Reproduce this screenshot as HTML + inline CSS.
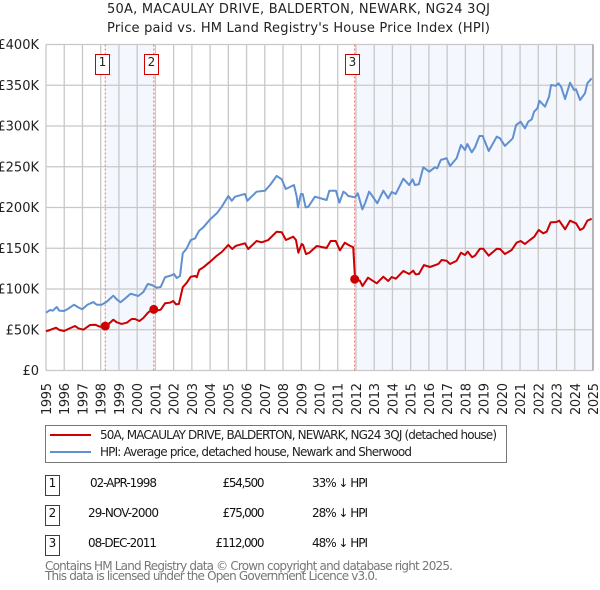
<!DOCTYPE html>
<html>
<head>
<meta charset="utf-8">
<title>50A, MACAULAY DRIVE, BALDERTON, NEWARK, NG24 3QJ</title>
<style>
html,body{margin:0;padding:0;background:#fff;width:600px;height:590px;overflow:hidden}
svg{display:block;font-family:"DejaVu Sans","Liberation Sans",sans-serif}
</style>
</head>
<body>
<svg id="chart" xmlns="http://www.w3.org/2000/svg" width="600" height="590" viewBox="0 0 600 590">
  <g font-size="13" fill="#222" text-anchor="middle">
    <text x="298.5" y="13" textLength="383" lengthAdjust="spacing">50A, MACAULAY DRIVE, BALDERTON, NEWARK, NG24 3QJ</text>
    <text x="298.5" y="32" textLength="383" lengthAdjust="spacing">Price paid vs. HM Land Registry's House Price Index (HPI)</text>
  </g>
  <g id="shades"></g>
  <g id="grid"></g>
  <g id="saleLines"></g>
  <g id="series"></g>
  <g id="markers"></g>
  <g id="yLabels" font-size="13" fill="#222" text-anchor="end"></g>
  <g id="xLabels" font-size="13" fill="#222"></g>
  <g id="flags" font-size="12" fill="#222" text-anchor="middle"></g>

  <g>
    <rect x="45.5" y="425.5" width="461" height="37" fill="#fff" stroke="#777" stroke-width="1"/>
    <line x1="50" x2="91" y1="435" y2="435" stroke="#cc0000" stroke-width="2"/>
    <text x="100" y="439" font-size="12" fill="#222" textLength="397" lengthAdjust="spacing">50A, MACAULAY DRIVE, BALDERTON, NEWARK, NG24 3QJ (detached house)</text>
    <line x1="50" x2="91" y1="452" y2="452" stroke="#6090d0" stroke-width="2"/>
    <text x="100" y="456" font-size="12" fill="#222" textLength="312" lengthAdjust="spacing">HPI: Average price, detached house, Newark and Sherwood</text>
  </g>

  <g font-size="12" fill="#111">
    <g>
      <rect x="45.5" y="475.5" width="14" height="20" fill="#fff" stroke="#cc0000"/>
      <text x="52.5" y="487" text-anchor="middle">1</text>
      <text x="90" y="487" textLength="67">02-APR-1998</text>
      <text x="264.5" y="487" text-anchor="end" textLength="42">£54,500</text>
      <text x="312" y="487" textLength="56">33% ↓ HPI</text>
    </g>
    <g>
      <rect x="45.5" y="505.5" width="14" height="20" fill="#fff" stroke="#cc0000"/>
      <text x="52.5" y="517" text-anchor="middle">2</text>
      <text x="88" y="517" textLength="71">29-NOV-2000</text>
      <text x="264.5" y="517" text-anchor="end" textLength="42">£75,000</text>
      <text x="312" y="517" textLength="56">28% ↓ HPI</text>
    </g>
    <g>
      <rect x="45.5" y="535.5" width="14" height="20" fill="#fff" stroke="#cc0000"/>
      <text x="52.5" y="547" text-anchor="middle">3</text>
      <text x="88" y="547" textLength="69">08-DEC-2011</text>
      <text x="264.5" y="547" text-anchor="end" textLength="49">£112,000</text>
      <text x="312" y="547" textLength="56">48% ↓ HPI</text>
    </g>
  </g>

  <g font-size="12" fill="#777">
    <text x="45" y="570" textLength="408">Contains HM Land Registry data © Crown copyright and database right 2025.</text>
    <text x="45" y="580" textLength="333">This data is licensed under the Open Government Licence v3.0.</text>
  </g>
</svg>

<script>
var yearTicks = [1995,1996,1997,1998,1999,2000,2001,2002,2003,2004,2005,2006,2007,2008,2009,2010,2011,2012,2013,2014,2015,2016,2017,2018,2019,2020,2021,2022,2023,2024,2025];
var valueTicks = [0,50,100,150,200,250,300,350,400];
var valueTickLabels = ["£0","£50K","£100K","£150K","£200K","£250K","£300K","£350K","£400K"];

var saleDates = [1998.25,2000.91,2011.93];
var saleValues = [54.5,75,112];
var saleNumbers = ["1","2","3"];

var hpiDates = [1995,1995.22,1995.37,1995.59,1995.73,1995.99,1996.22,1996.54,1996.77,1996.99,1997.27,1997.6,1997.78,1998.05,1998.33,1998.69,1998.88,1999.09,1999.39,1999.64,1999.83,2000.06,2000.34,2000.58,2000.81,2001.07,2001.29,2001.53,2001.89,2002.02,2002.17,2002.35,2002.5,2002.72,2002.94,2003.18,2003.27,2003.4,2003.63,2004,2004.37,2004.64,2005,2005.19,2005.37,2005.91,2006.04,2006.55,2007.01,2007.29,2007.65,2007.93,2008.15,2008.6,2008.75,2008.82,2008.98,2009.08,2009.24,2009.39,2009.75,2010.39,2010.54,2010.9,2011.09,2011.31,2011.44,2011.58,2011.95,2012.1,2012.35,2012.5,2012.72,2012.86,2013.17,2013.5,2013.77,2013.96,2014.18,2014.6,2014.92,2015.11,2015.23,2015.45,2015.69,2016.02,2016.33,2016.46,2016.65,2016.97,2017.16,2017.52,2017.76,2017.98,2018.11,2018.35,2018.53,2018.77,2018.95,2019.28,2019.72,2019.9,2020.17,2020.6,2020.78,2021.03,2021.27,2021.45,2021.64,2021.77,2021.95,2022.06,2022.37,2022.59,2022.7,2022.97,2023.1,2023.25,2023.47,2023.74,2023.96,2024.07,2024.29,2024.56,2024.69,2024.93];
var hpiValues = [70.9,74.2,73.4,77.9,73.4,73,75.8,80.7,77.5,75.1,80.7,84,80.7,80.7,84.4,91.8,87.3,83.7,89.3,94.2,93,91.4,96.3,106.1,104.9,101.6,102.5,114.4,116.8,118.4,113.5,116,143.8,149.9,160.1,162.2,166.3,171.5,175.7,185.5,192.9,201,214.1,208.3,213.3,216.6,208.3,219.4,220.6,227.6,238.7,234.6,222.7,227.6,213.3,200.2,216.6,216.6,200.2,201,213.3,209.2,220.6,220.6,205.9,219.4,217.4,214.1,212.5,217.4,197.8,205.2,219.4,215.3,205.2,220.6,211.3,219,216.6,235.3,227.6,234.6,227.6,228.5,249.3,243.9,249.3,248.1,258.3,260.4,250.9,260.4,276.7,270.6,277.9,267.7,273.9,287.7,287.7,269.3,286.9,284.9,275.5,284.9,301.2,305.3,297.2,305.3,308.2,317.5,321.7,331,323.7,336,350.3,349.4,352.4,348.2,333.1,353.1,344.2,345,331.9,340.1,352.4,358.5];

var paidDates = [1995,1995.22,1995.55,1995.73,1995.99,1996.22,1996.59,1996.77,1997.05,1997.41,1997.69,1997.96,1998.2,1998.42,1998.69,1998.88,1999.15,1999.43,1999.7,1999.88,2000.12,2000.34,2000.61,2000.81,2001.07,2001.29,2001.53,2001.8,2001.98,2002.13,2002.29,2002.5,2002.72,2002.94,2003.18,2003.27,2003.4,2003.63,2004,2004.37,2004.64,2005,2005.21,2005.4,2005.91,2006.09,2006.55,2006.83,2007.19,2007.65,2007.93,2008.16,2008.56,2008.71,2008.84,2009.02,2009.1,2009.26,2009.44,2009.85,2010.39,2010.61,2010.89,2011.12,2011.39,2011.67,2011.85,2011.95,2012.21,2012.36,2012.66,2013.14,2013.5,2013.77,2013.96,2014.19,2014.6,2014.92,2015.14,2015.27,2015.45,2015.73,2016.06,2016.52,2016.7,2016.97,2017.16,2017.52,2017.76,2017.98,2018.13,2018.37,2018.53,2018.8,2018.98,2019.28,2019.72,2019.9,2020.17,2020.54,2020.81,2021.03,2021.27,2021.54,2021.78,2022.02,2022.27,2022.46,2022.68,2023,2023.15,2023.47,2023.74,2024.07,2024.29,2024.47,2024.69,2024.93];
var paidValues = [48.1,49.7,52.5,49.7,48.5,50.9,54.6,51.8,50.1,55.8,56.2,53.7,54.6,56.7,62.3,59.1,57.1,58.7,63.2,63.2,60.7,64.4,71.4,74.2,73.4,74.6,82.5,83.2,85.3,81.2,81.6,102.1,107.7,115.1,116,114.4,123.3,126.6,133.5,140.9,145.4,154,149.1,152.8,156.1,149.1,158.9,157.3,160.1,170.3,169.6,160.1,164.2,160.1,144.5,155.2,154,142.9,144.5,152.8,150.3,158.9,158.9,147.5,156.8,153.1,151.2,111.9,110.2,103.7,113.9,107,115.1,109.8,114.7,112.6,122.1,118.4,122.5,118,118.4,129.4,127,130.7,135.6,134.7,130.7,134.7,144.5,141.7,145.8,138.9,140.9,149.4,149.4,140.9,149.4,149.1,142.9,147.9,156.8,158.9,155.2,160.1,164.2,172.4,168.3,170.3,181.8,182.2,183.8,173.3,183.8,180.6,172.4,174.5,183.8,186.2];

var NS = "http://www.w3.org/2000/svg";
var plotLeft = 46, plotRight = 593, plotTop = 44.5, plotBottom = 370.5;

function xScale(year) {
  return plotLeft + (year - 1995) * (plotRight - plotLeft) / 30;
}
function yScale(value) {
  return plotBottom - value * (plotBottom - plotTop) / 400;
}
function make(tag, attrs, parentId) {
  var el = document.createElementNS(NS, tag);
  for (var k in attrs) el.setAttribute(k, attrs[k]);
  document.getElementById(parentId).appendChild(el);
  return el;
}
function pathFrom(dates, values) {
  var d = "";
  for (var i = 0; i < dates.length; i++) {
    d += (i ? "L" : "M") + xScale(dates[i]).toFixed(2) + " " + yScale(values[i]).toFixed(2);
  }
  return d;
}

var shadeA = make("rect", {x: xScale(saleDates[0]), y: plotTop, width: xScale(saleDates[1]) - xScale(saleDates[0]), height: plotBottom - plotTop, fill: "#f4f7fe"}, "shades");


var shadeB = make("rect", {x: xScale(saleDates[2]), y: plotTop, width: plotRight - xScale(saleDates[2]), height: plotBottom - plotTop, fill: "#f4f7fe"}, "shades");



valueTicks.forEach(function (v, i) {
  var py = yScale(v);
  var line = make("line", {x1: plotLeft, x2: plotRight, y1: py, y2: py, stroke: "#c8c8c8", "stroke-width": 1.3}, "grid");
  
  
  var label = make("text", {x: 39, y: py + 4.5}, "yLabels");
  
  
  label.textContent = valueTickLabels[i];
});

yearTicks.forEach(function (yr) {
  var px = xScale(yr);
  var line = make("line", {x1: px, x2: px, y1: plotTop, y2: plotBottom, stroke: "#c8c8c8", "stroke-width": 1.3}, "grid");
  
  
  var label = make("text", {transform: "translate(" + (px + 5) + ",415) rotate(-90)", textLength: 32}, "xLabels");
  
  
  label.textContent = String(yr);
});

var rightEdge = make("line", {x1: plotRight, x2: plotRight, y1: plotTop, y2: plotBottom, stroke: "#999", "stroke-width": 1.3}, "grid");



saleDates.forEach(function (d) {
  var line = make("line", {x1: xScale(d), x2: xScale(d), y1: plotTop, y2: plotBottom, stroke: "#ff6666", "stroke-width": 1, "stroke-dasharray": "2 2"}, "saleLines");
  
  
});

var hpiLine = make("path", {d: pathFrom(hpiDates, hpiValues), fill: "none", stroke: "#6090d0", "stroke-width": 2, "stroke-linejoin": "round"}, "series");


var paidLine = make("path", {d: pathFrom(paidDates, paidValues), fill: "none", stroke: "#cc0000", "stroke-width": 2, "stroke-linejoin": "round"}, "series");



saleDates.forEach(function (d, i) {
  var dot = make("circle", {cx: xScale(d), cy: yScale(saleValues[i]), r: 4.5, fill: "#cc0000"}, "markers");
  
  
  var box = make("rect", {x: Math.round(xScale(d)) - 9.5, y: 54.5, width: 14, height: 20, fill: "#fff", stroke: "#cc0000"}, "flags");
  
  
  var num = make("text", {x: Math.round(xScale(d)) - 2.5, y: 66}, "flags");
  
  
  num.textContent = saleNumbers[i];
});
</script>
</body>
</html>
